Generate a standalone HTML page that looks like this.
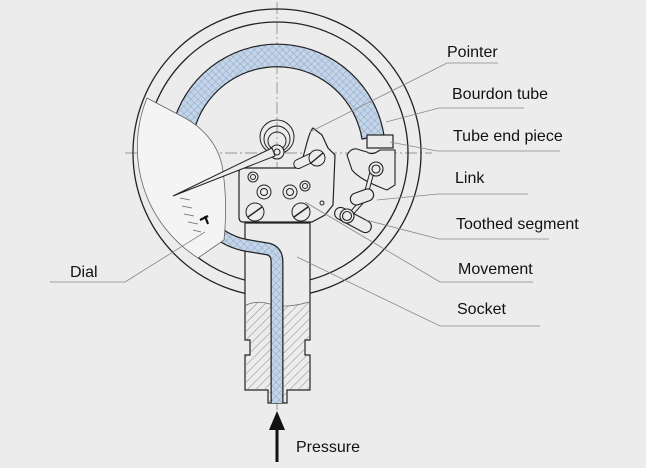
<!DOCTYPE html>
<html><head><meta charset="utf-8"><style>
html,body{margin:0;padding:0;background:#ececec;}
svg{display:block;}
text{font-family:"Liberation Sans",sans-serif;font-size:16px;fill:#111;}
</style></head><body>
<svg width="646" height="468" viewBox="0 0 646 468" xmlns="http://www.w3.org/2000/svg">
<defs>
<pattern id="h" width="5" height="5" patternUnits="userSpaceOnUse" patternTransform="rotate(45)">
<rect width="5" height="5" fill="#c3d5ea"/>
<path d="M0 0H5M0 0V5" stroke="#7f95b0" stroke-width="0.7"/>
</pattern>
<pattern id="d" width="6" height="6" patternUnits="userSpaceOnUse" patternTransform="rotate(45)">
<path d="M0 0V6" stroke="#555" stroke-width="0.7"/>
</pattern>
</defs>
<rect width="646" height="468" fill="#ececec"/>
<g stroke="#777" stroke-width="0.7" stroke-dasharray="12 3 2 3" fill="none">
<line x1="125" y1="153" x2="432" y2="153"/>
<line x1="277" y1="2" x2="277" y2="410"/>
</g>
<circle cx="277" cy="153" r="144" fill="none" stroke="#222" stroke-width="1.3"/>
<circle cx="277" cy="153" r="131" fill="none" stroke="#222" stroke-width="1.3"/>
<path d="M174.9,117.8 A108,108 0 0 1 383.9,135 L362,139 A86,86 0 0 0 195.7,125 Z" fill="url(#h)" stroke="#222" stroke-width="1.2"/>
<!-- socket -->
<path d="M245,223 H310 V340 H305 V355 H310 V390 H287 V403 H268 V390 H245 V355 H250 V340 H245 Z" fill="#ececec" stroke="#222" stroke-width="1.2"/>
<path d="M246,305 Q258,300 270,304 Q285,309 309,302 V339 H304 V356 H309 V389 H286 V402 H269 V389 H246 V356 H251 V339 H246 Z" fill="url(#d)"/>
<path d="M246,305 Q258,300 270,304 Q285,309 309,302" fill="none" stroke="#666" stroke-width="0.7"/>
<!-- lower tube -->
<path d="M212,228 Q228,243 250,246 L268,249 Q277,251 277,262 V403" fill="none" stroke="#222" stroke-width="13"/>
<path d="M212,228 Q228,243 250,246 L268,249 Q277,251 277,262 V403" fill="none" stroke="url(#h)" stroke-width="10.5"/>
<!-- dial -->
<path d="M147,98 L185,118 Q215,135 222,165 Q228,200 224,240 L198,258 A131,131 0 0 1 147,98 Z" fill="#f4f4f4" stroke="#666" stroke-width="0.8"/>
<g stroke="#666" stroke-width="0.8">
<line x1="180" y1="198" x2="190" y2="200"/><line x1="182" y1="206" x2="192" y2="208"/>
<line x1="184" y1="214" x2="194" y2="216"/><line x1="188" y1="222" x2="198" y2="224"/>
<line x1="193" y1="230" x2="201" y2="232"/>
</g>
<path d="M200,220 l8,-4 M205,216 l3,8" stroke="#111" stroke-width="2.2"/>
<rect x="367" y="135" width="26" height="13" fill="#ececec" stroke="#222" stroke-width="1.2"/>
<path d="M347,155 Q352,146 360,150 L367,152 Q372,156 380,150 L395,150 L395,185 L387,190 Q360,180 352,170 Z" fill="#ececec" stroke="#222" stroke-width="1.1"/>
<path d="M239,172 Q239,168 244,168 H300 L305,150 Q310,130 313,128 L322,135 L328,148 L335,155 L333,205 L325,215 L312,222 H243 Q239,222 239,217 Z" fill="#ececec" stroke="#222" stroke-width="1.2"/>
<g fill="none" stroke="#222" stroke-width="1">
<circle cx="277" cy="137" r="17"/><circle cx="277" cy="139" r="13"/><circle cx="277" cy="141" r="9"/>
</g>
<circle cx="277" cy="152" r="7" fill="#ececec" stroke="#222" stroke-width="1.1"/>
<circle cx="277" cy="152" r="3" fill="none" stroke="#222"/>
<path d="M173,196 L272,148 L275,156 Z" fill="#ececec" stroke="#222" stroke-width="1"/>
<g fill="#ececec" stroke="#222" stroke-width="1">
<circle cx="253" cy="177" r="5"/><circle cx="253" cy="177" r="2.5"/>
<circle cx="264" cy="192" r="7"/><circle cx="264" cy="192" r="3.5"/>
<circle cx="290" cy="192" r="7"/><circle cx="290" cy="192" r="3.5"/>
<circle cx="305" cy="186" r="5"/><circle cx="305" cy="186" r="2.5"/>
<circle cx="322" cy="203" r="2"/>
<circle cx="255" cy="212" r="9"/><circle cx="301" cy="212" r="9"/>
<rect x="293" y="155" width="30" height="9" rx="4.5" transform="rotate(-25 308 160)"/>
<circle cx="317" cy="158" r="8"/>
</g>
<g stroke="#222" stroke-width="1.4">
<line x1="248" y1="217" x2="262" y2="207"/><line x1="294" y1="217" x2="308" y2="207"/><line x1="311" y1="163" x2="323" y2="153"/>
</g>
<g fill="#ececec" stroke="#222" stroke-width="1.1">
<rect x="333" y="214" width="40" height="12" rx="6" transform="rotate(28 353 220)"/>
<path d="M372,172 L365,198 L350,215" stroke-width="5" fill="none"/>
<path d="M372,172 L365,198 L350,215" stroke="#ececec" stroke-width="3" fill="none"/>
<circle cx="376" cy="169" r="7"/><circle cx="376" cy="169" r="4"/>
<rect x="350" y="191" width="24" height="12" rx="6" transform="rotate(-20 362 197)"/>
<circle cx="347" cy="216" r="7"/><circle cx="347" cy="216" r="4.5"/>
</g>
<g stroke="#888" stroke-width="0.8" fill="none">
<polyline points="310,132 447,63 498,63"/>
<polyline points="386,122 439,108 524,108"/>
<polyline points="390,142 437,151 560,151"/>
<polyline points="377,200 438,194 528,194"/>
<polyline points="366,220 439,239 549,239"/>
<polyline points="305,202 440,282 533,282"/>
<polyline points="297,257 440,326 540,326"/>
<polyline points="205,232 125,282 50,282"/>
</g>
<line x1="277" y1="425" x2="277" y2="462" stroke="#111" stroke-width="3"/>
<path d="M269,430 L277,411 L285,430 Z" fill="#111"/>
<text x="447" y="57">Pointer</text>
<text x="452" y="99">Bourdon tube</text>
<text x="453" y="141">Tube end piece</text>
<text x="455" y="183">Link</text>
<text x="456" y="229">Toothed segment</text>
<text x="458" y="274">Movement</text>
<text x="457" y="314">Socket</text>
<text x="70" y="277">Dial</text>
<text x="296" y="452">Pressure</text>
</svg>
</body></html>
